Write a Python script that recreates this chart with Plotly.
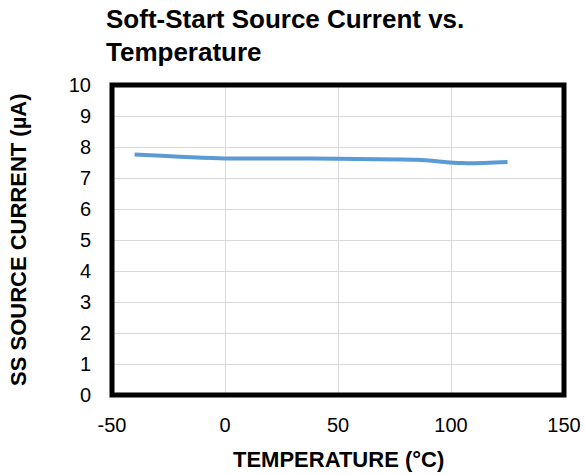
import plotly.graph_objects as go

temperature = [-40, 0, 25, 50, 85, 105, 125]
ss_current = [7.76, 7.63, 7.63, 7.62, 7.59, 7.48, 7.52]

x_ticks = [-50, 0, 50, 100, 150]
x_tick_text = ["-50", "0", "50", "100", "150"]
y_ticks = list(range(0, 11))

FONT = "Liberation Sans, Arial, sans-serif"
W, H = 585, 475
L, R, T, B = 112, 21, 85, 80

fig = go.Figure()
fig.add_trace(go.Scatter(
    x=temperature, y=ss_current, mode="lines",
    line=dict(color="#5B9BD5", width=4, shape="spline", smoothing=0.8),
    showlegend=False, hoverinfo="skip",
))

def px_x(p):
    return (p - L) / (W - L - R)

def px_y(p):
    return (H - B - p) / (H - T - B)

fig.update_layout(
    width=W, height=H,
    margin=dict(l=L, r=R, t=T, b=B, autoexpand=False),
    paper_bgcolor="white", plot_bgcolor="white",
    font=dict(family=FONT, color="black", size=20),
    xaxis=dict(
        range=[-50, 150], tickvals=x_ticks, ticktext=x_tick_text, showgrid=True,
        gridcolor="#d9d9d9", gridwidth=1, zeroline=False, automargin=False,
        showline=False, ticks="", ticklabelstandoff=16,
        tickfont=dict(size=20),
    ),
    yaxis=dict(
        range=[0, 10], tickvals=y_ticks, showgrid=True,
        gridcolor="#d9d9d9", gridwidth=1, zeroline=False, automargin=False,
        showline=False, ticks="", ticklabelstandoff=20,
        tickfont=dict(size=20),
    ),
    shapes=[dict(type="rect", xref="paper", yref="paper", x0=0, y0=0, x1=1, y1=1,
                 line=dict(color="black", width=5), layer="above")],
    annotations=[
        dict(text="<b>Soft-Start Source Current vs.</b>", xref="paper", yref="paper",
             x=px_x(104), y=px_y(19), xanchor="left", yanchor="middle",
             showarrow=False, font=dict(size=26, family=FONT, color="black")),
        dict(text="<b>Temperature</b>", xref="paper", yref="paper",
             x=px_x(104), y=px_y(52), xanchor="left", yanchor="middle",
             showarrow=False, font=dict(size=26, family=FONT, color="black")),
        dict(text="<b>TEMPERATURE (°C)</b>", xref="paper", yref="paper",
             x=px_x(338), y=px_y(459), xanchor="center", yanchor="middle",
             showarrow=False, font=dict(size=22, family=FONT, color="black")),
        dict(text="<b>SS SOURCE CURRENT (µA)</b>", xref="paper", yref="paper",
             x=px_x(18), y=px_y(240), xanchor="center", yanchor="middle",
             textangle=-90, showarrow=False,
             font=dict(size=22, family=FONT, color="black")),
    ],
)

fig.write_html("out.html")
